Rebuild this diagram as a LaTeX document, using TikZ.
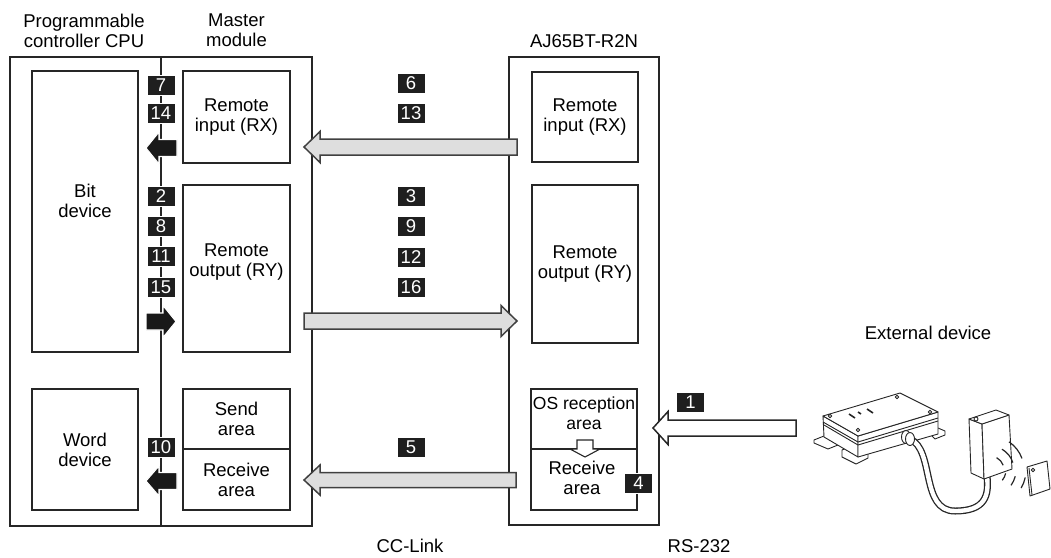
\documentclass[tikz,border=0pt]{standalone}
\usepackage{fontspec}
\setmainfont{Liberation Sans}
\usetikzlibrary{calc}

% block arrow: [style] tail, tip, half shaft, half head, head length
\newcommand{\fatarrow}[6][]{%
  \coordinate (fa-n) at ($(#3)!#6!(#2)$);
  \draw[#1] ($(#2)!#4!90:(#3)$) -- ($(fa-n)!#4!90:(#3)$) -- ($(fa-n)!#5!90:(#3)$)
    -- (#3) -- ($(fa-n)!#5!-90:(#3)$) -- ($(fa-n)!#4!-90:(#3)$) -- ($(#2)!#4!-90:(#3)$) -- cycle;}

\begin{document}
\begin{tikzpicture}[x=1pt,y=-1pt,font=\fontsize{18.5}{20}\selectfont,
    frame/.style={draw=black!85,line width=1.5pt},
    box/.style={draw=black!85,line width=1.5pt,align=center,inner sep=0pt},
    badge/.style={fill=black!88,draw=white,line width=0.8pt,text=white,
      minimum width=28pt,minimum height=20pt,inner sep=0pt},
    linkarrow/.style={fill=black!13,draw=black!75,line width=1.5pt},
    busarrow/.style={fill=black!90,draw=white,line width=1.1pt},
    openarrow/.style={fill=white,draw=black!85,line width=1.5pt},
    part/.style={draw=black!85,line width=0.9pt,line join=round,fill=white}]
  \useasboundingbox (0,0) rectangle (1051,557);

  \node[align=center] (cpuname) at (84,30.5) {Programmable\\controller CPU};
  \node[align=center] (mastername) at (236.5,30.5) {Master\\module};
  \node (r2nname) at (584,41) {AJ65BT-R2N};
  \node (extname) at (928,333) {External device};
  \node (cclink) at (410,546) {CC-Link};
  \node (rs232) at (699,546) {RS-232};

  % CPU + master module, and the AJ65BT-R2N
  \node[frame,minimum width=302,minimum height=469] (plc) at (161,291.5) {};
  \draw[frame] (plc.north) -- (plc.south);
  \node[frame,minimum width=150,minimum height=468] (r2n) at (584,291) {};

  \node[box,minimum width=106,minimum height=281] (bit) at (85,211.5) {};
  \node[align=center] (bittext) at (85,201) {Bit\\device};
  \node[box,minimum width=106,minimum height=121] (word) at (85,449.5) {Word\\device};
  \node[box,minimum width=107,minimum height=92] (mrx) at (236.5,117) {Remote\\input (RX)};
  \node[box,minimum width=107,minimum height=167] (mry) at (236.5,268.5) {};
  \node[align=center] (mrytext) at (236.5,262) {Remote\\output (RY)};
  \node[box,minimum width=107,minimum height=60] (msend) at (236.5,419) {Send\\area};
  \node[box,minimum width=107,minimum height=61] (mrecv) at (236.5,479.5) {Receive\\area};

  \node[box,minimum width=106,minimum height=90] (rrx) at (585,117) {Remote\\input (RX)};
  \node[box,minimum width=106,minimum height=158] (rry) at (585,264) {Remote\\output (RY)};
  \node[box,minimum width=106,minimum height=60] (ros) at (584,419) {};
  \node[align=center,font=\fontsize{17.5}{20}\selectfont] (rostext) at (584,413) {OS reception\\area};
  \node[box,minimum width=106,minimum height=61] (rrecv) at (584,479.5) {};
  \node[align=center] (rrecvtext) at (582,478) {Receive\\area};

  % step numbers
  \node[badge] (s7) at (161,85) {7};
  \node[badge] (s14) at (161,113) {14};
  \node[badge] (s2) at (161,196.5) {2};
  \node[badge] (s8) at (161,226.5) {8};
  \node[badge] (s11) at (161,256.5) {11};
  \node[badge] (s15) at (161,287) {15};
  \node[badge] (s10) at (161,447) {10};
  \node[badge] (s6) at (411,83.5) {6};
  \node[badge] (s13) at (411,113) {13};
  \node[badge] (s3) at (411,196.5) {3};
  \node[badge] (s9) at (411,226.5) {9};
  \node[badge] (s12) at (411,257) {12};
  \node[badge] (s16) at (411,287) {16};
  \node[badge] (s5) at (411,447) {5};
  \node[badge] (s4) at (638.5,483.5) {4};
  \node[badge] (s1) at (690.5,402) {1};

  % transfers between CPU and master module
  \coordinate (cpurx-a) at (177,148);
  \coordinate (cpurx-b) at (146,148);
  \coordinate (cpury-a) at (146,321.5);
  \coordinate (cpury-b) at (176,321.5);
  \coordinate (cpurd-a) at (177,481);
  \coordinate (cpurd-b) at (146,481);
  \fatarrow[busarrow]{cpurx-a}{cpurx-b}{8.5pt}{16pt}{13pt}
  \fatarrow[busarrow]{cpury-a}{cpury-b}{8.5pt}{16pt}{13pt}
  \fatarrow[busarrow]{cpurd-a}{cpurd-b}{8.5pt}{15pt}{13pt}

  % CC-Link transfers
  \coordinate (linkrx-a) at (517,147);
  \coordinate (linkrx-b) at (304,147);
  \coordinate (linkry-a) at (304,321);
  \coordinate (linkry-b) at (517,321);
  \coordinate (linkrd-a) at (516,480);
  \coordinate (linkrd-b) at (304,480);
  \fatarrow[linkarrow]{linkrx-a}{linkrx-b}{8pt}{15.5pt}{16pt}
  \fatarrow[linkarrow]{linkry-a}{linkry-b}{8pt}{15.5pt}{16pt}
  \fatarrow[linkarrow]{linkrd-a}{linkrd-b}{7.5pt}{15pt}{16pt}

  % RS-232 in, then OS area to receive area
  \coordinate (rs-a) at (796,428);
  \coordinate (rs-b) at (653,428);
  \fatarrow[openarrow]{rs-a}{rs-b}{8pt}{16.5pt}{15pt}
  \coordinate (os-a) at (585,440);
  \coordinate (os-b) at (585,457);
  \fatarrow[openarrow,line width=1.1pt]{os-a}{os-b}{8pt}{15pt}{8pt}

  % external device: controller box
  \filldraw[part] (814,440) -- (824,436) -- (838,442) -- (838,445) -- (828,449) -- (814,443) -- cycle;
  \filldraw[part] (842,450) -- (852,446) -- (868,453) -- (868,458) -- (856,464) -- (842,457) -- cycle;
  \filldraw[part] (928,432) -- (938,428) -- (945,431) -- (945,435) -- (935,439) -- cycle;
  \filldraw[part] (823,416) -- (858,436) -- (858,457) -- (824,437) -- cycle;
  \filldraw[part] (858,436) -- (938,412) -- (938,434) -- (858,457) -- cycle;
  \filldraw[part] (823,416) -- (900,393) -- (938,412) -- (858,436) -- cycle;
  \draw[part,fill=none] (823,422) -- (858,442) -- (938,418);
  \draw[part,fill=none] (824,425) -- (858,445) -- (938,421);
  \draw[part] (830,416) circle (1.8) (897,397) circle (1.8) (930,412) circle (1.8) (858,430) circle (1.8);
  \draw[black!85,line width=1.6pt] (849,414) -- (855,418) (858,412) -- (861,414) (867,409) -- (873,413);
  % cable
  \draw[black!85,line width=7pt] (910,439) .. controls (935,450) and (920,511) .. (955,511) .. controls (986,511) and (989,495) .. (987,476);
  \draw[white,line width=4.4pt] (910,439) .. controls (935,450) and (920,511) .. (955,511) .. controls (986,511) and (989,495) .. (987,476);
  \filldraw[part] (906,437) ellipse (4.5 and 6.5);
  \filldraw[part] (910,439) ellipse (4.5 and 6.5);
  % reader head
  \filldraw[part] (969,419) -- (982,424) -- (984,479) -- (971,473) -- cycle;
  \filldraw[part] (982,424) -- (1009,415) -- (1012,469) -- (984,479) -- cycle;
  \filldraw[part] (969,419) -- (996,410) -- (1009,415) -- (982,424) -- cycle;
  \draw[part] (976,419) circle (2);
  \draw[black!85,line width=1.2pt] (990,470) ++(-62:14) arc (-62:-20:14)
    (990,470) ++(-60:24) arc (-60:-18:24) (990,470) ++(-56:34) arc (-56:-20:34)
    (990,470) ++(12:16) arc (12:40:16) (990,470) ++(14:26) arc (14:36:26)
    (990,470) ++(12:36) arc (12:30:36);
  % ID tag
  \filldraw[part] (1027,467) -- (1047,461) -- (1050,489) -- (1030,496) -- cycle;
  \draw[part,fill=none] (1029,468) -- (1032,495);
  \draw[part] (1033,470) circle (1.8);
\end{tikzpicture}
\end{document}
